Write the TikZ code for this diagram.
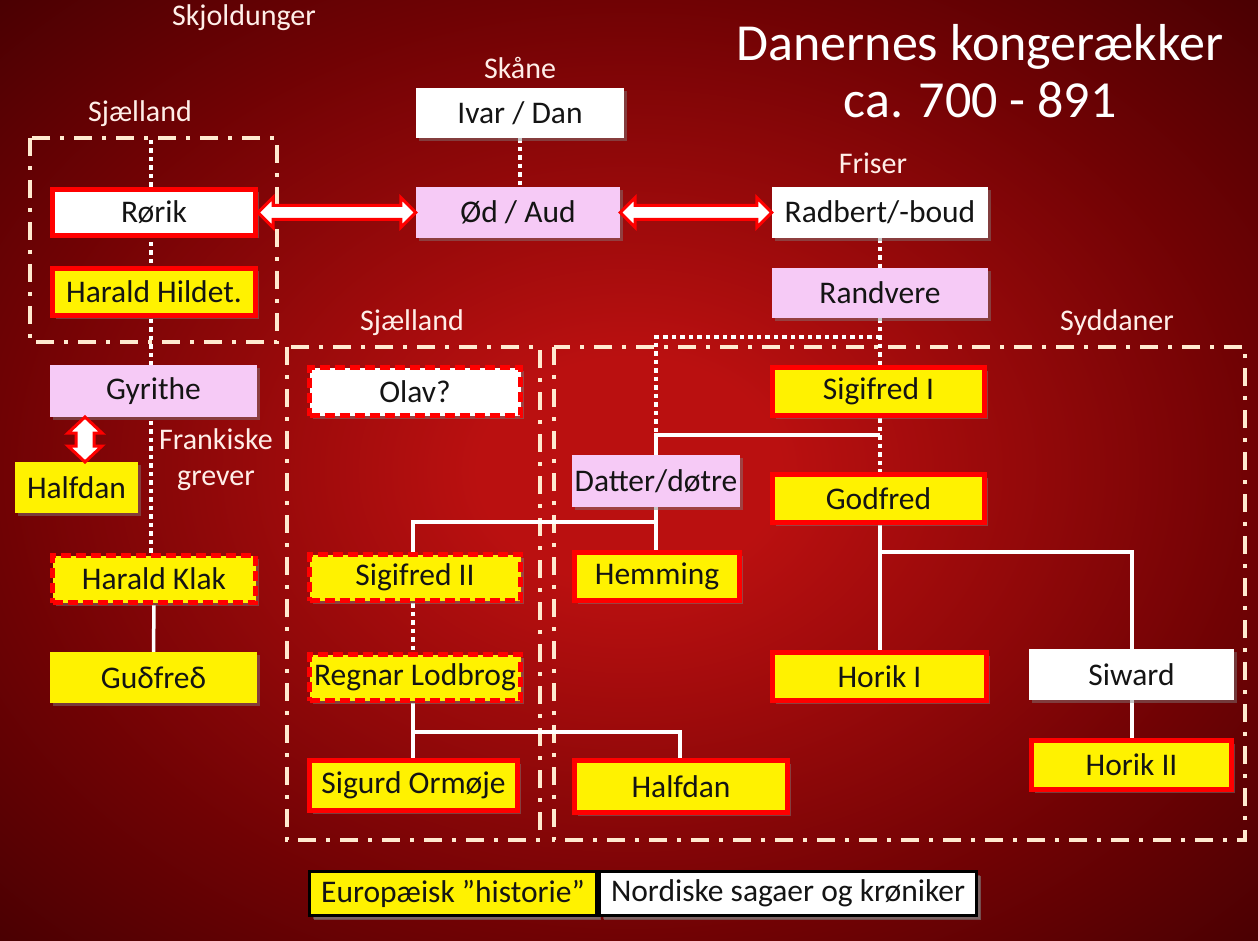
\documentclass[tikz,border=0pt]{standalone}
\usepackage{fontspec}
\setmainfont{Carlito}
\usetikzlibrary{shadows,calc}
\definecolor{bgin}{RGB}{186,16,16}
\definecolor{bgmid}{RGB}{112,2,4}
\definecolor{bgout}{RGB}{72,0,2}
\definecolor{pinkbox}{RGB}{246,202,246}
\definecolor{cream}{RGB}{255,234,208}
\definecolor{lbl}{RGB}{255,238,232}
\definecolor{boxred}{RGB}{255,0,0}
\pgfdeclareradialshading{bgrad}{\pgfpoint{0bp}{0bp}}{color(0bp)=(bgin); color(6bp)=(bgin); color(25bp)=(bgmid); color(36bp)=(bgout); color(50bp)=(bgout)}
\pgfdeclarelayer{shadelayer}
\pgfdeclarelayer{linelayer}
\pgfsetlayers{shadelayer,linelayer,main}
\tikzset{
 bx/.style={rectangle, inner sep=0pt, font=\fontsize{31.5}{36}\selectfont, text=black!92,
   drop shadow={shadow xshift=3pt, shadow yshift=-3pt, opacity=0.45}},
 ysolid/.style={bx, fill=yellow, draw=boxred, line width=5pt},
 ydash/.style={ysolid, dash pattern=on 10pt off 5pt},
 wsolid/.style={bx, fill=white, draw=boxred, line width=5pt},
 wdash/.style={wsolid, dash pattern=on 10pt off 5pt},
 wplain/.style={bx, fill=white},
 pplain/.style={bx, fill=pinkbox},
 yplain/.style={bx, fill=yellow},
 legbox/.style={bx, draw=black, line width=3pt, drop shadow={shadow xshift=4pt, shadow yshift=-4pt, opacity=0.6}},
 dotl/.style={white, line width=4pt, dash pattern=on 4.5pt off 4pt},
 soll/.style={white, line width=3.5pt},
 framel/.style={cream, line width=4pt, dash pattern=on 18pt off 10pt on 4pt off 10pt},
 lab/.style={text=lbl, font=\fontsize{30}{36}\selectfont, inner sep=0pt},
 ttl/.style={text=white, font=\fontsize{52}{60}\selectfont, inner sep=0pt, anchor=base},
 blkarrow/.style={draw=boxred, fill=white, line width=3pt, line join=miter}
}
\newcommand{\hdarrow}[2]{%
 \draw[blkarrow] let \p1=#1, \p2=#2 in
   (\x1,\y1) -- (\x1+15pt,\y1+15pt) -- (\x1+15pt,\y1+7pt) -- (\x2-15pt,\y1+7pt)
   -- (\x2-15pt,\y1+15pt) -- (\x2,\y1) -- (\x2-15pt,\y1-15pt) -- (\x2-15pt,\y1-7pt)
   -- (\x1+15pt,\y1-7pt) -- (\x1+15pt,\y1-15pt) -- cycle;}
\newcommand{\vdarrow}[2]{%
 \draw[blkarrow] let \p1=#1, \p2=#2 in
   (\x1,\y1) -- (\x1+17pt,\y1-16pt) -- (\x1+9pt,\y1-16pt) -- (\x1+9pt,\y2+16pt)
   -- (\x1+17pt,\y2+16pt) -- (\x1,\y2) -- (\x1-17pt,\y2+16pt) -- (\x1-9pt,\y2+16pt)
   -- (\x1-9pt,\y1-16pt) -- (\x1-17pt,\y1-16pt) -- cycle;}
\begin{document}
\begin{tikzpicture}[x=1pt,y=-1pt]
\begin{pgfonlayer}{shadelayer}
\shade[shading=bgrad] (0,0) rectangle (1258,941);
\end{pgfonlayer}
\useasboundingbox (0,0) rectangle (1258,941);

% titles and labels
\node[ttl] (t1) at (980,61) {Danernes kongerækker};
\node[ttl] (t2) at (980,118) {ca. 700 - 891};
\node[lab] (skj) at (244,18) {Skjoldunger};
\node[lab] (sj1) at (140,114) {Sjælland};
\node[lab] (sko) at (520,68) {Skåne};
\node[lab] (fri) at (873,163) {Friser};
\node[lab] (sj2) at (412,323) {Sjælland};
\node[lab] (syd) at (1117,323) {Syddaner};
\node[lab, align=center] (fra) at (216,460) {Frankiske\\grever};

% boxes
\node[wplain, minimum width=208pt, minimum height=50pt] (ivar) at (520,113) {Ivar / Dan};
\node[pplain, minimum width=204pt, minimum height=51pt] (od) at (518,212.5) {Ød / Aud};
\node[wsolid, minimum width=203pt, minimum height=46pt] (rorik) at (154,212.5) {Rørik};
\node[ysolid, minimum width=203pt, minimum height=47pt] (hildet) at (154,292) {Harald Hildet.};
\node[wplain, minimum width=216pt, minimum height=51pt] (radbert) at (880,212.5) {Radbert/-boud};
\node[pplain, minimum width=216pt, minimum height=50pt] (randvere) at (880,293) {Randvere};
\node[pplain, minimum width=207pt, minimum height=52pt] (gyrithe) at (153.5,391) {Gyrithe};
\node[yplain, minimum width=123pt, minimum height=51pt] (halfdanL) at (76.5,487.5) {Halfdan};
\node[ydash, minimum width=203pt, minimum height=47pt] (klak) at (154,579) {Harald Klak};
\node[yplain, minimum width=207pt, minimum height=51pt] (gudfred) at (153.5,677.5) {Guδfreδ};
\node[wdash, minimum width=211pt, minimum height=48pt] (olav) at (415,391.5) {Olav?};
\node[ydash, minimum width=211pt, minimum height=46pt] (sig2) at (415,577.5) {Sigifred II};
\node[ydash, minimum width=211pt, minimum height=46pt] (regnar) at (415,677.5) {Regnar Lodbrog};
\node[ysolid, minimum width=208pt, minimum height=50pt] (sigurd) at (413.5,785.5) {Sigurd Ormøje};
\node[ysolid, minimum width=212pt, minimum height=48pt] (sig1) at (878.5,391.5) {Sigifred I};
\node[ysolid, minimum width=212pt, minimum height=48pt] (godfred) at (878.5,498.5) {Godfred};
\node[pplain, minimum width=168pt, minimum height=52pt] (datter) at (656,481) {Datter/døtre};
\node[ysolid, minimum width=165pt, minimum height=48pt] (hemming) at (657,576.5) {Hemming};
\node[ysolid, minimum width=214pt, minimum height=48pt] (horik1) at (879.5,676.5) {Horik I};
\node[wplain, minimum width=205pt, minimum height=51pt] (siward) at (1131.5,674.5) {Siward};
\node[ysolid, minimum width=200pt, minimum height=49pt] (horik2) at (1131.5,765) {Horik II};
\node[ysolid, minimum width=213pt, minimum height=52pt] (halfdanB) at (681,786.5) {Halfdan};

% legend
\node[legbox, fill=yellow, minimum width=287pt, minimum height=44pt] (leg1) at (453,893.5) {Europæisk ”historie”};
\node[legbox, fill=white, minimum width=377pt, minimum height=44pt] (leg2) at (788,893.5) {Nordiske sagaer og krøniker};

% helper coordinates
\coordinate (ltop) at (151,140);
\coordinate (rj) at (880,337);
\coordinate (dj) at (656,337);
\coordinate (dk) at (656,435);
\coordinate (sk) at (880,435);
\coordinate (dl) at (656,522);
\coordinate (sl) at (413,522);
\coordinate (rl) at (413,732);
\coordinate (hl) at (680,732);
\coordinate (gl) at (880,552);
\coordinate (wl) at (1132,552);
\coordinate (ga) at (85,417);
\coordinate (gb) at (85,462);

\begin{pgfonlayer}{linelayer}
\draw[framel] (30,138) rectangle (277,342);
\draw[framel] (287,347) rectangle (540,840);
\draw[framel] (554,347) rectangle (1245,840);
% dotted lines
\draw[dotl] (ivar.south) -- (ivar.south |- od.north);
\draw[dotl] (ltop) -- (ltop |- klak.north);
\draw[dotl] (radbert.south) -- (randvere.north);
\draw[dotl] (randvere.south) -- (randvere.south |- sig1.north);
\draw[dotl] (rj) -- (dj) -- (dk);
\draw[dotl] (sig1.south -| rj) -- (godfred.north -| rj);
\draw[dotl] (sig2.south -| sl) -- (regnar.north -| sl);
% solid lines
\draw[soll] (klak.south) -- (gudfred.north);
\draw[soll] (sk) -- (dk) -- (datter.north -| dk);
\draw[soll] (datter.south -| dk) -- (hemming.north -| dk);
\draw[soll] (dl) -- (sl) -- (sig2.north -| sl);
\draw[soll] (regnar.south -| sl) -- (sigurd.north -| sl);
\draw[soll] (rl) -- (hl) -- (halfdanB.north -| hl);
\draw[soll] (godfred.south -| gl) -- (horik1.north -| gl);
\draw[soll] (gl) -- (wl) -- (siward.north -| wl);
\draw[soll] (siward.south -| wl) -- (horik2.north -| wl);
\end{pgfonlayer}

% block double arrows
\hdarrow{(rorik.east)}{(od.west)}
\hdarrow{(od.east)}{(radbert.west)}
\vdarrow{(ga)}{(gb)}
\end{tikzpicture}
\end{document}
